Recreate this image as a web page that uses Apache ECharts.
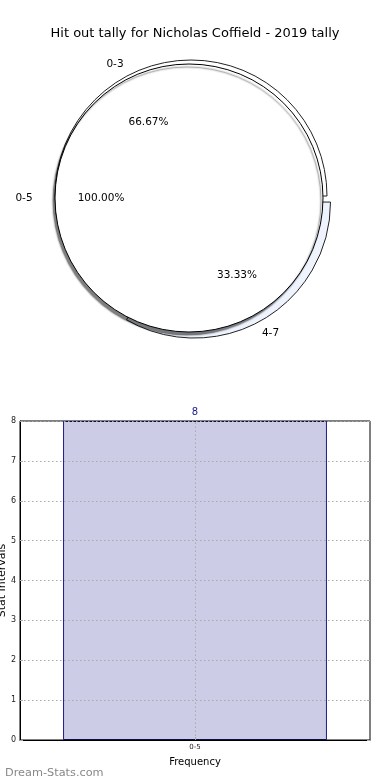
<!DOCTYPE html>
<html>
<head>
<meta charset="utf-8">
<script src="https://cdn.jsdelivr.net/npm/echarts@6/dist/echarts.min.js"></script>
<style>html,body{margin:0;padding:0;background:#fff}#c{width:390px;height:780px}</style>
</head>
<body>
<div id="c"></div>
<script>
const titleText = 'Hit out tally for Nicholas Coffield - 2019 tally';
const outerNames = ['0-3', '4-7'];
const outerValues = [2, 1];
const outerColors = ['#ffffff', '#eef3fd'];
const innerNames = ['0-5'];
const innerValues = [8];
const barCategories = ['0-5'];
const barValues = [8];
const yMin = 0, yMax = 8, yInterval = 1;

const FONT = 'DejaVu Sans';
const innerCenter = [189, 198];
const outerCenter = [191, 196];

function outerData(withStyle) {
  return outerNames.map((n, i) => ({
    name: n,
    value: outerValues[i],
    selected: n === '4-7',
    itemStyle: withStyle ? { color: outerColors[i] } : { color: 'rgba(0,0,0,0)', borderWidth: 0 }
  }));
}
function innerData(withStyle) {
  return innerNames.map((n, i) => ({
    name: n,
    value: innerValues[i],
    itemStyle: withStyle ? { color: '#ffffff' } : { color: 'rgba(0,0,0,0)', borderWidth: 0 }
  }));
}
const pctFmt = p => p.percent.toFixed(2) + '%';
const labelBase = { show: true, position: 'inside', color: '#000', fontFamily: FONT, fontSize: 10.5 };

function labelPie(dataFn, center, radius, fmt, outer) {
  return {
    type: 'pie', center, radius, startAngle: 0, clockwise: false,
    selectedMode: outer ? 'single' : false, selectedOffset: 7,
    silent: true, animation: false, z: 5,
    avoidLabelOverlap: false,
    label: Object.assign({}, labelBase, { formatter: fmt }),
    labelLine: { show: false },
    emphasis: { disabled: true },
    data: dataFn(false)
  };
}

const chart = echarts.init(document.getElementById('c'), null, { renderer: 'canvas' });
chart.setOption({
  animation: false,
  backgroundColor: '#fff',
  title: [
    { text: titleText, left: 'center', top: 22, textStyle: { fontFamily: FONT, fontSize: 13, fontWeight: 'normal', color: '#000' } },
    { text: 'Dream-Stats.com', left: 0, top: 763, textStyle: { fontFamily: FONT, fontSize: 11.3, fontWeight: 'normal', color: '#888' } }
  ],
  grid: [{
    left: 20, right: 20, top: 421, bottom: 40,
    outerBoundsMode: 'none', containLabel: false,
    show: true, borderColor: '#000', borderWidth: 1, backgroundColor: 'transparent'
  }],
  xAxis: [{
    type: 'category', gridIndex: 0, data: barCategories,
    name: 'Frequency', nameLocation: 'middle', nameGap: 17,
    nameTextStyle: { fontFamily: FONT, fontSize: 10, color: '#000' },
    axisLine: { lineStyle: { color: '#000' } },
    axisTick: { show: true, alignWithLabel: true, inside: true, length: 3, lineStyle: { color: '#aaa' } },
    axisLabel: { fontFamily: FONT, fontSize: 7, color: '#222', margin: 4 },
    splitLine: { show: false }
  }],
  yAxis: [{
    type: 'value', gridIndex: 0, min: yMin, max: yMax, interval: yInterval,
    name: 'Stat Intervals', nameLocation: 'middle', nameGap: 12, nameMoveOverlap: false,
    nameTextStyle: { fontFamily: FONT, fontSize: 11, color: '#000' },
    axisLine: { show: true, lineStyle: { color: '#000' } },
    axisTick: { show: true, inside: true, length: 3, lineStyle: { color: '#aaa' } },
    axisLabel: { fontFamily: FONT, fontSize: 8, color: '#222', margin: 4 },
    splitLine: { show: true, lineStyle: { color: '#aaa', type: [1.5, 2.5], width: 1 } }
  }, {
    type: 'value', gridIndex: 0, min: yMin, max: yMax, interval: yInterval, position: 'right',
    axisLine: { show: false },
    axisTick: { show: true, inside: true, length: 3, lineStyle: { color: '#aaa' } },
    axisLabel: { show: false },
    splitLine: { show: false }
  }],
  series: [
    {
      type: 'pie', center: outerCenter, radius: [0, 136], startAngle: 0, clockwise: false,
      selectedMode: 'single', selectedOffset: 7, silent: true, z: 1,
      label: { show: false }, labelLine: { show: false },
      itemStyle: { borderColor: '#222', borderWidth: 1 },
      emphasis: { disabled: true },
      data: outerData(true)
    },
    {
      type: 'pie', center: innerCenter, radius: [0, 134], startAngle: 0, clockwise: false,
      silent: true, z: 2, selectedMode: false,
      label: { show: false }, labelLine: { show: false },
      itemStyle: { borderColor: '#000', borderWidth: 1, shadowColor: 'rgba(0,0,0,0.5)', shadowBlur: 1.5, shadowOffsetX: -2, shadowOffsetY: 3 },
      emphasis: { disabled: true },
      data: innerData(true)
    },
    labelPie(outerData, outerCenter, [60, 104], pctFmt, true),
    labelPie(outerData, outerCenter, [131, 167], p => p.name, true),
    labelPie(innerData, innerCenter, [62, 108], pctFmt, false),
    labelPie(innerData, innerCenter, [144, 180], p => p.name, false),
    {
      type: 'bar', xAxisIndex: 0, yAxisIndex: 0, data: barValues,
      barWidth: '75.4%', z: -1,
      itemStyle: { color: '#ccccE6', borderColor: '#1a1a8c', borderWidth: 1 },
      label: { show: true, position: 'top', distance: 4, color: '#1a1a8c', fontFamily: FONT, fontSize: 10 },
      markLine: {
        silent: true, symbol: 'none', z: 3,
        label: { show: false },
        lineStyle: { color: '#aaa', type: [1.5, 2.5], width: 1 },
        data: barCategories.map(c => ({ xAxis: c }))
      }
    }
  ]
});
</script>
</body>
</html>
